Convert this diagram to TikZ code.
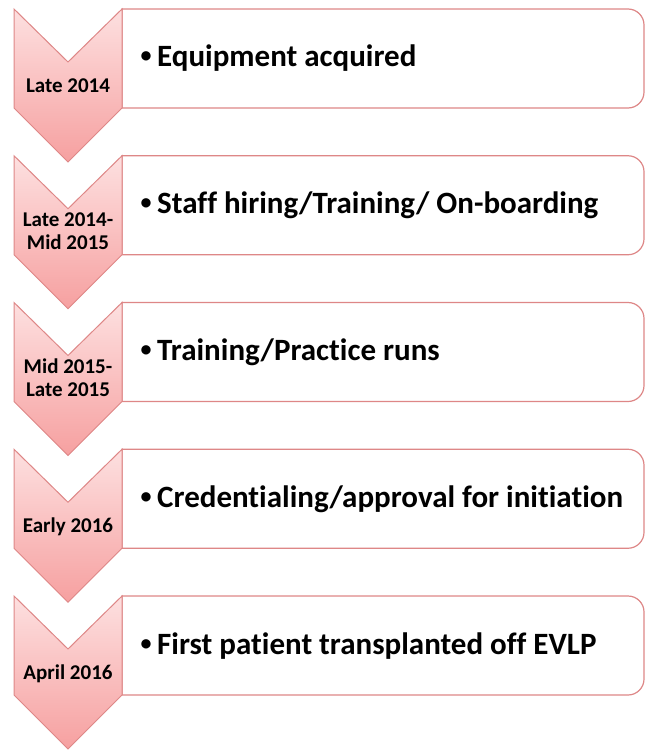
\documentclass[tikz,border=0pt]{standalone}
\usepackage{fontspec}
\setmainfont{Carlito}[Ligatures=NoCommon]
\definecolor{chevtop}{RGB}{253,224,224}
\definecolor{chevbot}{RGB}{246,160,160}
\definecolor{pinkline}{RGB}{222,135,135}
\tikzset{
  chevshape/.style={top color=chevtop, bottom color=chevbot, draw=pinkline, line width=1bp},
  boxshape/.style={draw=pinkline, fill=white, line width=1.2bp},
  datelabel/.style={anchor=base, inner sep=0pt, font=\fontsize{21bp}{23bp}\selectfont\bfseries},
  bodytext/.style={anchor=base west, inner sep=0pt, font=\fontsize{31bp}{36bp}\selectfont\bfseries},
  bullettext/.style={anchor=base, inner sep=0pt, font=\fontsize{22bp}{26bp}\selectfont\bfseries}
}
\begin{document}
\begin{tikzpicture}[x=1bp,y=-1bp]
\useasboundingbox (0,0) rectangle (645,750);
\foreach \t [count=\i] in {9,155.75,302.5,449.25,596}{
  \draw[boxshape] (122,\t) -- (628,\t) arc[start angle=-90,end angle=0,radius=16] -- (644,\t+83) arc[start angle=0,end angle=90,radius=16] -- (122,\t+99) -- cycle;
  \path[chevshape] (14,\t) -- (68,\t+53) -- (122,\t) -- (122,\t+99) -- (68,\t+153) -- (14,\t+99) -- cycle;
}
% date labels
\node[datelabel] (d1) at (68,92) {Late 2014};
\node[datelabel] (d2a) at (68,226.75) {Late 2014-};
\node[datelabel] (d2b) at (68,249.75) {Mid 2015};
\node[datelabel] (d3a) at (68,373.5) {Mid 2015-};
\node[datelabel] (d3b) at (68,396.5) {Late 2015};
\node[datelabel] (d4) at (68,532.25) {Early 2016};
\node[datelabel] (d5) at (68,679) {April 2016};
% bullets and body text
\node[bullettext] (b1) at (146,63) {•};
\node[bodytext] (t1) at (157,67) {Equipment acquired};
\node[bullettext] (b2) at (146,209.75) {•};
\node[bodytext] (t2) at (157,213.75) {Staff hiring/Training/ On-boarding};
\node[bullettext] (b3) at (146,356.5) {•};
\node[bodytext] (t3) at (157,360.5) {Training/Practice runs};
\node[bullettext] (b4) at (146,503.25) {•};
\node[bodytext] (t4) at (157,507.25) {Credentialing/approval for initiation};
\node[bullettext] (b5) at (146,650) {•};
\node[bodytext] (t5) at (157,654) {First patient transplanted off EVLP};
\end{tikzpicture}
\end{document}
